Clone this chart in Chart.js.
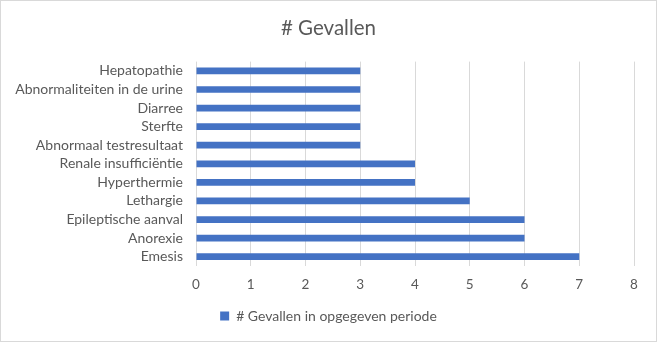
<!DOCTYPE html>
<html>
<head>
<meta charset="utf-8">
<script src="https://cdn.jsdelivr.net/npm/chart.js@4.4.1/dist/chart.umd.min.js"></script>
<style>
  html, body { margin: 0; padding: 0; background: #fff; }
  #wrap {
    width: 657px; height: 342px; box-sizing: border-box;
    border: 1px solid #d9d9d9; position: relative;
  }
</style>
</head>
<body>
<div id="wrap"><canvas id="chart" width="655" height="340"></canvas></div>
<script>
/* ── DATA ───────────────────────────────────────────────────────────── */
const CATEGORIES = [
  "Hepatopathie",
  "Abnormaliteiten in de urine",
  "Diarree",
  "Sterfte",
  "Abnormaal testresultaat",
  "Renale insufficiëntie",
  "Hyperthermie",
  "Lethargie",
  "Epileptische aanval",
  "Anorexie",
  "Emesis",
];
const CASES = [3, 3, 3, 3, 3, 4, 4, 5, 6, 6, 7];
const SERIES_LABEL = "# Gevallen in opgegeven periode";
const TITLE = "# Gevallen";
const X_MIN = 0;
const X_MAX = 8;

/* ── STYLE ──────────────────────────────────────────────────────────── */
const BLUE = "#4472c4";
const INK = "#595959";
const GRID = "#d9d9d9";
const FONT = "Lato, 'Open Sans', sans-serif";

new Chart(document.getElementById("chart"), {
  type: "bar",
  data: {
    labels: CATEGORIES,
    datasets: [{
      label: SERIES_LABEL,
      data: CASES,
      backgroundColor: BLUE,
      borderWidth: 0,
      categoryPercentage: 1,
      barPercentage: 0.36,
    }],
  },
  options: {
    indexAxis: "y",
    responsive: false,
    animation: false,
    layout: { padding: { top: 13, left: 0, right: 0, bottom: 8 } },
    plugins: {
      title: {
        display: true,
        text: TITLE,
        color: INK,
        font: { family: FONT, size: 20.5, weight: "normal" },
        padding: { top: 2, bottom: 21 },
      },
      legend: {
        position: "bottom",
        labels: {
          color: INK,
          font: { family: FONT, size: 14 },
          boxWidth: 9,
          boxHeight: 9,
          padding: 10,
        },
      },
      tooltip: { enabled: false },
    },
    scales: {
      x: {
        min: X_MIN,
        max: X_MAX,
        ticks: {
          stepSize: 1,
          color: INK,
          font: { family: FONT, size: 13.5 },
          padding: 11,
        },
        grid: { color: GRID, drawTicks: false },
        border: { display: false },
        afterFit(scale) { scale.height = 33; },
      },
      y: {
        ticks: {
          autoSkip: false,
          color: INK,
          font: { family: FONT, size: 14 },
          padding: 13,
        },
        grid: { display: false, drawTicks: false },
        border: { display: false },
        afterFit(scale) { scale.width = 195; },
      },
      /* empty right-hand gutter so title and legend stay centred on the page */
      gutter: {
        type: "category",
        axis: "y",
        position: "right",
        ticks: { display: false },
        grid: { display: false, drawTicks: false },
        border: { display: false },
        afterFit(scale) { scale.width = 22; },
      },
    },
  },
});
</script>
</body>
</html>
